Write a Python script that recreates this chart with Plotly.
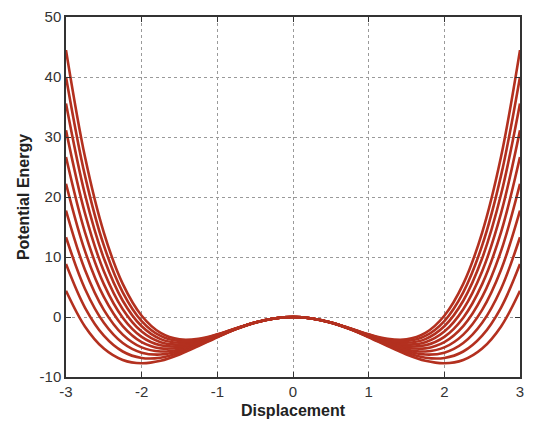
import plotly.graph_objects as go

# Sample displacements (right half; the curves are symmetric about x = 0)
x_half = [0, 0.25, 0.5, 0.75, 1.0, 1.25, 1.5, 1.75, 2.0, 2.25, 2.5, 2.75, 3.0]

# Potential energy values read at each sample displacement (10 curves)
curve_1 = [0, -0.24, -0.94, -2.02, -3.38, -4.85, -6.24, -7.29, -7.71, -7.16, -5.26, -1.57, 4.38]
curve_2 = [0, -0.24, -0.93, -2.00, -3.32, -4.72, -5.96, -6.78, -6.83, -5.75, -3.11, 1.58, 8.84]
curve_3 = [0, -0.24, -0.93, -1.98, -3.27, -4.58, -5.68, -6.26, -5.95, -4.34, -0.96, 4.72, 13.29]
curve_4 = [0, -0.24, -0.93, -1.97, -3.21, -4.45, -5.41, -5.74, -5.07, -2.93, 1.19, 7.87, 17.75]
curve_5 = [0, -0.24, -0.92, -1.95, -3.16, -4.32, -5.13, -5.23, -4.19, -1.52, 3.34, 11.01, 22.20]
curve_6 = [0, -0.24, -0.92, -1.93, -3.10, -4.18, -4.85, -4.71, -3.31, -0.11, 5.48, 14.16, 26.66]
curve_7 = [0, -0.24, -0.91, -1.91, -3.05, -4.05, -4.57, -4.20, -2.43, 1.30, 7.63, 17.31, 31.11]
curve_8 = [0, -0.24, -0.91, -1.90, -2.99, -3.91, -4.29, -3.68, -1.55, 2.71, 9.78, 20.45, 35.57]
curve_9 = [0, -0.24, -0.91, -1.88, -2.94, -3.78, -4.01, -3.16, -0.67, 4.12, 11.93, 23.60, 40.02]
curve_10 = [0, -0.24, -0.90, -1.86, -2.88, -3.64, -3.73, -2.65, 0.21, 5.52, 14.08, 26.74, 44.48]

curves = [curve_1, curve_2, curve_3, curve_4, curve_5,
          curve_6, curve_7, curve_8, curve_9, curve_10]

x_ticks = [-3, -2, -1, 0, 1, 2, 3]
y_ticks = [-10, 0, 10, 20, 30, 40, 50]

# full symmetric series
x_full = [-v for v in reversed(x_half[1:])] + x_half

fig = go.Figure()
for c in curves:
    y_full = list(reversed(c[1:])) + c
    fig.add_trace(go.Scatter(
        x=x_full, y=y_full, mode="lines",
        line=dict(color="#b3301f", width=2.6, shape="spline", smoothing=1.0),
        showlegend=False, hoverinfo="skip"))

FONT = "Liberation Sans, Arial, sans-serif"
axis_common = dict(
    showgrid=True, gridcolor="#9a9a9a", griddash="dot", gridwidth=1,
    zeroline=False, showline=True, linecolor="#333333", linewidth=1.5,
    mirror="allticks", ticks="inside", ticklen=5, tickcolor="#333333",
    automargin=False,
    tickfont=dict(family=FONT, size=15, color="#333333"),
)

fig.update_xaxes(range=[-3, 3], tickvals=x_ticks, ticktext=[str(v) for v in x_ticks],
                 title=dict(text="<b>Displacement</b>", standoff=6,
                            font=dict(family=FONT, size=16, color="#222222")),
                 **axis_common)
fig.update_yaxes(range=[-10, 50], tickvals=y_ticks, ticktext=[str(v) for v in y_ticks],
                 title=dict(text="<b>Potential Energy</b>", standoff=6,
                            font=dict(family=FONT, size=16, color="#222222")),
                 **axis_common)

# The page body adds an 8px border, so the figure is sized to fit inside the 534x427 window
fig.update_layout(
    width=518, height=411,
    margin=dict(l=58, r=6, t=9, b=42),
    paper_bgcolor="white", plot_bgcolor="white",
)

fig.write_html("out.html")
